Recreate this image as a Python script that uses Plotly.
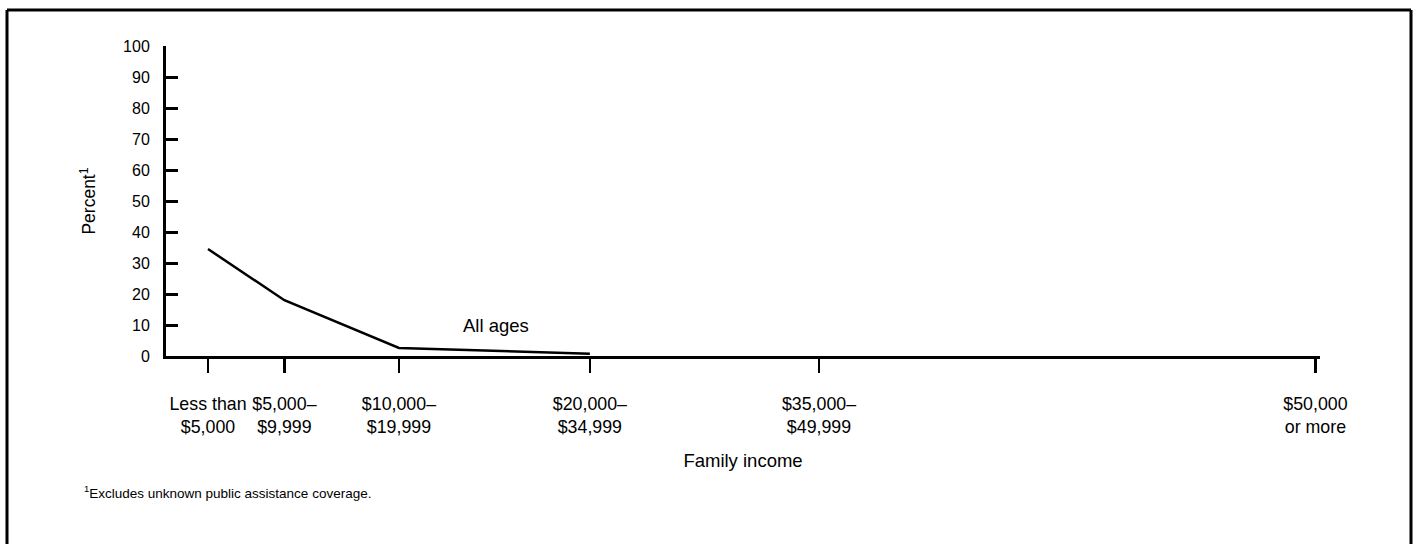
import plotly.graph_objects as go

# Data
income_pos = [2500, 7500, 15000, 27500, 42500, 75000]
income_labels = ["Less than<br>$5,000", "$5,000–<br>$9,999", "$10,000–<br>$19,999",
                 "$20,000–<br>$34,999", "$35,000–<br>$49,999", "$50,000<br>or more"]
series_x = [2500, 7500, 15000, 27500]
all_ages = [34.5, 18.0, 2.6, 0.7]
y_ticks = [0, 10, 20, 30, 40, 50, 60, 70, 80, 90, 100]

W, H = 1420, 544
L, R, T, B = 166, 1320, 46, 356

FONT = "Liberation Sans, Arial, Helvetica, sans-serif"

fig = go.Figure()
fig.add_trace(go.Scatter(x=series_x, y=all_ages, mode="lines",
                         line=dict(color="black", width=2.5), showlegend=False,
                         hoverinfo="skip"))

def px_x(p):
    return (p - L) / (R - L)

def px_y(p):
    return (B - p) / (B - T)

fig.update_layout(
    width=W, height=H,
    margin=dict(l=L, r=W - R, t=T, b=H - B),
    paper_bgcolor="white", plot_bgcolor="white",
    font=dict(family=FONT, color="black", size=16),
    xaxis=dict(range=[-250, 75300], showgrid=False, zeroline=False,
               showline=True, linecolor="black", linewidth=3,
               tickvals=income_pos, ticktext=income_labels,
               ticks="outside", ticklen=14, tickwidth=2.5, tickcolor="black",
               ticklabelstandoff=16,
               tickfont=dict(size=17.8),
               title=dict(text="Family income", font=dict(size=18.5), standoff=18)),
    yaxis=dict(range=[0, 100], showgrid=False, zeroline=False,
               showline=True, linecolor="black", linewidth=3,
               tickvals=y_ticks, ticks="inside", ticklen=12, tickwidth=3,
               tickcolor="black", ticklabelstandoff=10,
               tickfont=dict(size=16),
               title=dict(text="Percent<sup>1</sup>", font=dict(size=17.5), standoff=23)),
    annotations=[
        dict(x=21354, y=9.8, xref="x", yref="y", text="All ages", showarrow=False,
             font=dict(size=18.5), xanchor="center", yanchor="middle"),
        dict(x=px_x(82), y=px_y(492), xref="paper", yref="paper",
             text="<sup>1</sup>Excludes unknown public assistance coverage.",
             showarrow=False, font=dict(size=13.5), xanchor="left", yanchor="middle"),
    ],
    shapes=[
        dict(type="line", xref="paper", yref="paper",
             x0=px_x(7), x1=px_x(7), y0=px_y(10), y1=px_y(544),
             line=dict(color="black", width=3)),
        dict(type="line", xref="paper", yref="paper",
             x0=px_x(7), x1=px_x(1411), y0=px_y(10), y1=px_y(10),
             line=dict(color="black", width=3)),
        dict(type="line", xref="paper", yref="paper",
             x0=px_x(1411), x1=px_x(1411), y0=px_y(10), y1=px_y(544),
             line=dict(color="black", width=3)),
    ],
)

fig.write_html("out.html",
               config={"displayModeBar": False, "staticPlot": True},
               post_script="document.body.style.margin='0';document.body.style.overflow='hidden';")
